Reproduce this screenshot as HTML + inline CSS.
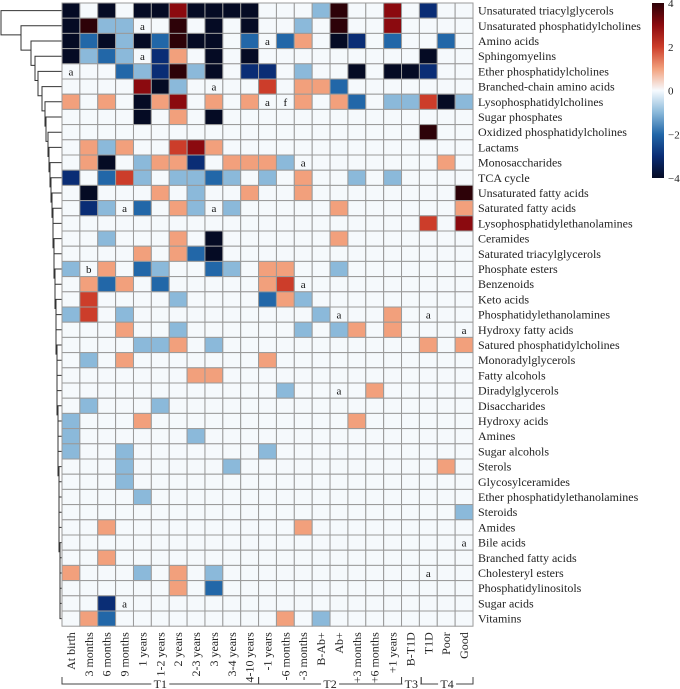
<!DOCTYPE html>
<html><head><meta charset="utf-8"><style>
html,body{margin:0;padding:0;background:#fff;}
svg{display:block;font-family:"Liberation Serif",serif;}
</style></head><body>
<svg id="chart" width="680" height="689" viewBox="0 0 680 689" xmlns="http://www.w3.org/2000/svg">
<defs><linearGradient id="cb" x1="0" y1="0" x2="0" y2="1">
<stop offset="0" stop-color="#2d0208"/><stop offset="0.125" stop-color="#8b0a0f"/><stop offset="0.25" stop-color="#cc3d2a"/><stop offset="0.375" stop-color="#f2a07c"/><stop offset="0.5" stop-color="#f7fbff"/><stop offset="0.625" stop-color="#8bb9da"/><stop offset="0.75" stop-color="#2267a8"/><stop offset="0.875" stop-color="#0a2d75"/><stop offset="1" stop-color="#050b24"/></linearGradient></defs>
<g id="dendro"></g>
<g id="cells"></g>
<g id="rlabels"></g>
<g id="clabels"></g>
<g id="groups"></g>
<g id="cbar">
<rect x="652" y="3" width="12" height="175" fill="url(#cb)"/>
</g>
</svg>
<script>
const rows = ["Unsaturated triacylglycerols","Unsaturated phosphatidylcholines","Amino acids","Sphingomyelins","Ether phosphatidylcholines","Branched-chain amino acids","Lysophosphatidylcholines","Sugar phosphates","Oxidized phosphatidylcholines","Lactams","Monosaccharides","TCA cycle","Unsaturated fatty acids","Saturated fatty acids","Lysophosphatidylethanolamines","Ceramides","Saturated triacylglycerols","Phosphate esters","Benzenoids","Keto acids","Phosphatidylethanolamines","Hydroxy fatty acids","Satured phosphatidylcholines","Monoradylglycerols","Fatty alcohols","Diradylglycerols","Disaccharides","Hydroxy acids","Amines","Sugar alcohols","Sterols","Glycosylceramides","Ether phosphatidylethanolamines","Steroids","Amides","Bile acids","Branched fatty acids","Cholesteryl esters","Phosphatidylinositols","Sugar acids","Vitamins"];
const cols = ["At birth","3 months","6 months","9 months","1 years","1-2 years","2 years","2-3 years","3 years","3-4 years","4-10 years","-1 years","-6 months","-3 months","B-Ab+","Ab+","+3 months","+6 months","+1 years","B-T1D","T1D","Poor","Good"];
const values = [
[-4,0,-4,0,-4,-4,3,-4,-4,-4,-4,0,0,0,-1,4,0,0,3,0,-3,0,0],
[-4,4,-1,-1,0,0,4,0,-4,0,-4,0,0,-1,0,4,0,0,3,0,0,0,0],
[-4,-2,-4,-1,-4,-2,4,-4,-4,0,-2,0,-2,1,0,-4,-3,0,-2,0,0,-2,0],
[-4,-1,-2,-1,0,-3,1,0,-4,0,-4,0,0,0,0,0,0,0,0,0,-4,0,0],
[0,0,0,-2,-1,-3,4,-1,-4,0,-3,-3,0,-1,0,0,-4,0,-4,-4,-3,0,0],
[0,0,0,0,3,-4,-1,0,0,0,0,2,0,1,1,-2,0,0,0,0,0,0,0],
[1,0,1,0,-4,1,3,0,1,0,1,0,0,1,0,1,-2,0,-1,-1,2,-4,-1],
[0,0,0,0,-4,0,1,0,-4,0,0,0,0,0,0,0,0,0,0,0,0,0,0],
[0,0,0,0,0,0,0,0,0,0,0,0,0,0,0,0,0,0,0,0,4,0,0],
[0,1,-1,1,0,0,2,3,1,0,0,0,0,0,0,0,0,0,0,0,0,0,0],
[0,1,-4,0,-1,1,1,-3,0,1,1,1,-1,0,0,0,0,0,0,0,0,1,0],
[-3,0,-2,2,-1,0,-1,-1,-2,-1,0,-1,0,1,0,0,-1,0,-1,0,0,0,0],
[0,-4,0,0,0,1,0,-1,0,0,1,0,0,1,0,0,0,0,0,0,0,0,4],
[0,-3,-1,0,-2,0,1,-1,0,-1,0,0,0,0,0,1,0,0,0,0,0,0,1],
[0,0,0,0,0,0,0,0,0,0,0,0,0,0,0,0,0,0,0,0,2,0,3],
[0,0,-1,0,0,0,1,0,-4,0,0,0,0,0,0,1,0,0,0,0,0,0,0],
[0,0,0,0,1,0,1,-2,-4,0,0,0,0,0,0,0,0,0,0,0,0,0,0],
[-1,0,1,0,-2,-1,0,0,-2,-1,0,1,1,0,0,-1,0,0,0,0,0,0,0],
[0,1,-2,1,0,-2,0,0,0,0,0,1,2,0,0,0,0,0,0,0,0,0,0],
[0,2,0,0,0,0,-1,0,0,0,0,-2,1,-1,0,0,0,0,0,0,0,0,0],
[-1,2,0,-1,0,0,0,0,0,0,0,0,0,0,-1,0,0,0,1,0,0,0,0],
[0,0,0,1,0,0,-1,0,0,0,0,0,0,-1,0,-1,1,0,1,0,0,0,0],
[0,0,0,0,-1,-1,1,0,-1,0,0,0,0,0,0,0,0,0,0,0,1,0,1],
[0,-1,0,1,0,0,0,0,0,0,0,1,0,0,0,0,0,0,0,0,0,0,0],
[0,0,0,0,0,0,0,1,1,0,0,0,0,0,0,0,0,0,0,0,0,0,0],
[0,0,0,0,0,0,0,0,0,0,0,0,-1,0,0,0,0,1,0,0,0,0,0],
[0,-1,0,0,0,-1,0,0,0,0,0,0,0,0,0,0,0,0,0,0,0,0,0],
[-1,0,0,0,1,0,0,0,0,0,0,0,0,0,0,0,1,0,0,0,0,0,0],
[-1,0,0,0,0,0,0,-1,0,0,0,0,0,0,0,0,0,0,0,0,0,0,0],
[-1,0,0,-1,0,0,0,0,0,0,0,-1,0,0,0,0,0,0,0,0,0,0,0],
[0,0,0,-1,0,0,0,0,0,-1,0,0,0,0,0,0,0,0,0,0,0,1,0],
[0,0,0,-1,0,0,0,0,0,0,0,0,0,0,0,0,0,0,0,0,0,0,0],
[0,0,0,0,-1,0,0,0,0,0,0,0,0,0,0,0,0,0,0,0,0,0,0],
[0,0,0,0,0,0,0,0,0,0,0,0,0,0,0,0,0,0,0,0,0,0,-1],
[0,0,1,0,0,0,0,0,0,0,0,0,0,1,0,0,0,0,0,0,0,0,0],
[0,0,0,0,0,0,0,0,0,0,0,0,0,0,0,0,0,0,0,0,0,0,0],
[0,0,1,0,0,0,0,0,0,0,0,0,0,0,0,0,0,0,0,0,0,0,0],
[1,0,0,0,-1,0,1,0,-1,0,0,0,0,0,0,0,0,0,0,0,0,0,0],
[0,0,0,0,0,0,1,0,-2,0,0,0,0,0,0,0,0,0,0,0,0,0,0],
[0,0,-3,0,0,0,0,0,0,0,0,0,0,0,0,0,0,0,0,0,0,0,0],
[0,1,-2,0,0,0,0,0,0,0,0,0,1,0,-1,0,0,0,0,0,0,0,0]
];
const annotRows = [1,2,3,4,5,6,6,10,13,13,17,18,20,20,21,25,35,37,39];
const annotCols = [4,11,4,0,8,11,12,13,3,8,1,13,15,20,22,15,22,20,3];
const annotText = ["a","a","a","a","a","a","f","a","a","a","b","a","a","a","a","a","a","a","a"];
const groupNames = ["T1","T2","T3","T4"];
const groupStart = [0,11,19,20.1];
const groupEnd = [11,19,20.1,23];
const cbTicks = [4,2,0,-2,-4];

const NS="http://www.w3.org/2000/svg";
const X0=62, CW=17.87, Y0=3, RH=15.2;
const xs=c=>X0+c*CW, ys=r=>Y0+r*RH;
const palette={"-4":"#050b24","-3":"#0a2d75","-2":"#2267a8","-1":"#8bb9da","0":"#f5f9fc","1":"#f2a07c","2":"#cc3d2a","3":"#8b0a0f","4":"#2d0208"};
function mk(tag,attrs,parent){const e=document.createElementNS(NS,tag);for(const k in attrs)e.setAttribute(k,attrs[k]);parent.appendChild(e);return e;}
const gC=document.getElementById('cells');
values.forEach((row,r)=>row.forEach((v,c)=>{
  const e=mk('rect',{x:xs(c),y:ys(r),width:CW,height:RH,fill:palette[String(Math.max(-4,Math.min(4,Math.round(v))))],stroke:"#9a9a9a","stroke-width":1},gC);
  
  
}));
annotText.forEach((t,i)=>{
  const e=mk('text',{x:xs(annotCols[i])+CW/2,y:ys(annotRows[i])+RH/2+4,"text-anchor":"middle","font-size":"11",fill:"#111"},gC);
  e.textContent=t;
  
  
});
const gR=document.getElementById('rlabels');
rows.forEach((n,r)=>{
  const e=mk('text',{x:478,y:ys(r)+RH/2+4,"font-size":"12",fill:"#222"},gR);
  e.textContent=n;
  
  
});
const gL=document.getElementById('clabels');
const yb=ys(rows.length);
cols.forEach((n,c)=>{
  const cx=xs(c)+CW/2+4;
  const e=mk('text',{x:0,y:0,transform:`translate(${cx},${yb+6}) rotate(-90)`,"text-anchor":"end","font-size":"12",fill:"#222"},gL);
  e.textContent=n;
  
  
});
const gG=document.getElementById('groups');
const by=684;
groupNames.forEach((g,i)=>{
  const a=xs(groupStart[i]), b=xs(groupEnd[i]), m=(a+b)/2;
  const l=mk('path',{d:`M${a},${by-7}V${by}H${b}V${by-7}`,fill:"none",stroke:"#444","stroke-width":1},gG);
  
  
  const w=g.length*7+4;
  mk('rect',{x:m-w/2,y:by-6,width:w,height:10,fill:"#fff"},gG);
  const t=mk('text',{x:m,y:by+4,"text-anchor":"middle","font-size":"12",fill:"#222"},gG);
  t.textContent=g;
  
  
});
const gB=document.getElementById('cbar');
cbTicks.forEach(v=>{
  const y=3+(4-v)/8*175;
  const t=mk('text',{x:668,y:y+4,"font-size":"11",fill:"#222"},gB);
  t.textContent=(v<0?"\u2212":"")+Math.abs(v);
  
  
});
// dendrogram (approximate caterpillar)
const gD=document.getElementById('dendro');
const n=rows.length;
const dx=[1,21,31,35,38,42,45,46,48,49,50,51,52,53,53,54,54,55,55,56,56,56,57,57,57,57,58,58,58,58,59,59,59,59,59,60,60,60,60,60];
let d="";
for(let k=0;k<n-1;k++){
  const yk=ys(k)+RH/2, xk=dx[k];
  const ych=Math.min(ys(k+1)+RH/2+RH*0.6, ys(n-1)+RH/2);
  const xn=k+1<n-1?dx[k+1]:X0;
  d+=`M${X0},${yk}H${xk}V${ych}H${xn}`;
}
d+=`M${dx[n-2]},${ys(n-1)+RH/2}H${X0}`;
const p=mk('path',{d:d,fill:"none",stroke:"#333","stroke-width":1},gD);


</script>
</body></html>
